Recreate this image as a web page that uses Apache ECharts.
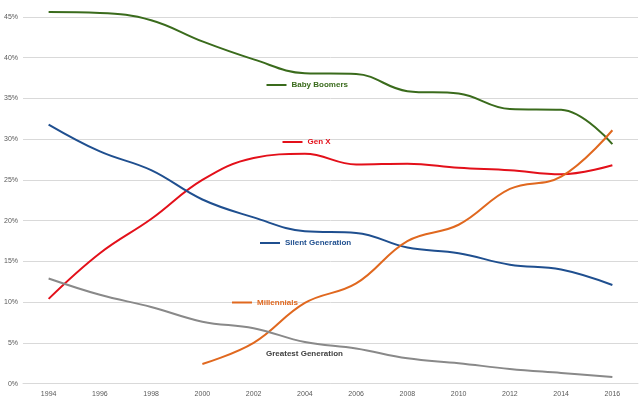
<!DOCTYPE html>
<html>
<head>
<meta charset="utf-8">
<script src="https://cdn.jsdelivr.net/npm/echarts@6/dist/echarts.min.js"></script>
<style>html,body{margin:0;padding:0;background:#fff}#c{width:640px;height:401px}</style>
</head>
<body>
<div id="c"></div>
<script>
var years = ['1994','1996','1998','2000','2002','2004','2006','2008','2010','2012','2014','2016'];
var babyBoomers = [45.6, 45.5, 44.6, 42.0, 39.8, 38.1, 38.0, 35.9, 35.6, 33.7, 33.6, 29.4];
var genX = [10.4, 16.0, 20.2, 25.0, 27.7, 28.2, 26.9, 27.0, 26.5, 26.2, 25.7, 26.8];
var silentGen = [31.8, 28.5, 26.2, 22.6, 20.4, 18.7, 18.5, 16.7, 16.0, 14.6, 14.0, 12.1];
var millennials = [null, null, null, 2.4, 5.0, 9.9, 12.3, 17.5, 19.5, 23.9, 25.4, 31.1];
var greatestGen = [12.9, 10.9, 9.4, 7.6, 6.8, 5.1, 4.3, 3.1, 2.5, 1.8, 1.3, 0.8];
var yTicks = {min: 0, max: 45, interval: 5};

var cGreen = '#3a6b1c', cRed = '#e3101a', cBlue = '#1f4f8f', cOrange = '#e0681f', cGray = '#898989';
function mk(name, data, color) {
  return {name: name, type: 'line', data: data, smooth: 0.4, symbol: 'none', clip: false,
    lineStyle: {color: color, width: 2}, itemStyle: {color: color}};
}
function lbl(x1, y, text, color, withLine) {
  var els = [];
  if (withLine) els.push({type: 'line', z: 100, silent: true, shape: {x1: x1, y1: y, x2: x1 + 20, y2: y}, style: {stroke: color, lineWidth: 2}});
  els.push({type: 'text', z: 100, silent: true, x: withLine ? x1 + 25 : x1, y: y, style: {text: text, fill: color, font: 'bold 8px "Liberation Sans", Arial, sans-serif', textVerticalAlign: 'middle'}});
  return els;
}
var chart = echarts.init(document.getElementById('c'), null, {renderer: 'canvas'});
chart.setOption({
  animation: false,
  grid: {left: 23, right: 2, top: 17, bottom: 17.4, containLabel: false},
  xAxis: {type: 'category', data: years, boundaryGap: true,
    axisLine: {show: true, lineStyle: {color: '#d9d9d9', width: 1}},
    axisTick: {show: false},
    axisLabel: {color: '#595959', fontSize: 7, margin: 7, fontFamily: 'Liberation Sans, Arial, sans-serif'}},
  yAxis: {type: 'value', min: yTicks.min, max: yTicks.max, interval: yTicks.interval,
    axisLine: {show: false}, axisTick: {show: false},
    splitLine: {lineStyle: {color: '#d9d9d9', width: 1}},
    axisLabel: {color: '#595959', fontSize: 7, margin: 5, formatter: '{value}%', fontFamily: 'Liberation Sans, Arial, sans-serif'}},
  series: [
    mk('Baby Boomers', babyBoomers, cGreen),
    mk('Gen X', genX, cRed),
    mk('Silent Generation', silentGen, cBlue),
    mk('Millennials', millennials, cOrange),
    mk('Greatest Generation', greatestGen, cGray)
  ],
  graphic: [].concat(
    lbl(266.5, 85, 'Baby Boomers', cGreen, true),
    lbl(282.5, 142, 'Gen X', cRed, true),
    lbl(260, 243, 'Silent Generation', cBlue, true),
    lbl(232, 302.5, 'Millennials', cOrange, true),
    lbl(266, 354, 'Greatest Generation', '#404040', false)
  )
});
</script>
</body>
</html>
